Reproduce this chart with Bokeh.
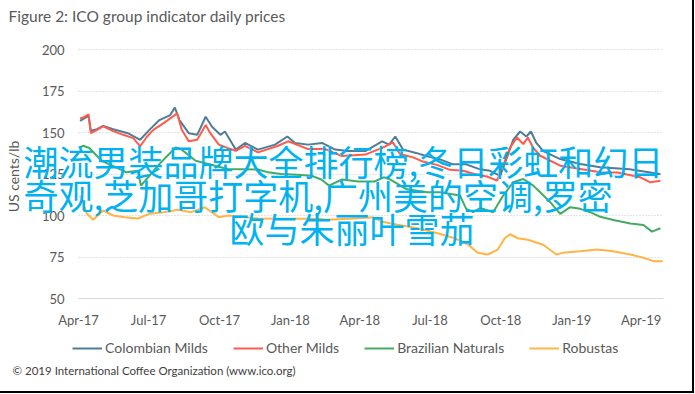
import math
import pandas as pd
from bokeh.plotting import figure
from bokeh.models import (Label, Legend, LegendItem, FixedTicker, DatetimeTickFormatter, Range1d)
from bokeh.embed import file_html
from bokeh.resources import INLINE

# ---------------- data ----------------
colombian_dates = ["2017-04-03", "2017-04-14", "2017-04-17", "2017-04-25", "2017-05-03", "2017-05-16",
                   "2017-06-04", "2017-06-20", "2017-07-02", "2017-07-15", "2017-07-29", "2017-08-04",
                   "2017-08-10", "2017-08-22", "2017-09-02", "2017-09-13", "2017-09-21", "2017-10-02",
                   "2017-10-08", "2017-10-22", "2017-11-03", "2017-11-20", "2017-12-12", "2017-12-28",
                   "2018-01-07", "2018-01-24", "2018-02-11", "2018-02-28", "2018-03-17", "2018-04-08",
                   "2018-04-30", "2018-05-09", "2018-05-17", "2018-05-27", "2018-06-13", "2018-06-26",
                   "2018-07-14", "2018-07-31", "2018-08-17", "2018-09-04", "2018-09-17", "2018-09-30",
                   "2018-10-08", "2018-10-17", "2018-10-26", "2018-11-03", "2018-11-09", "2018-11-16",
                   "2018-11-25", "2018-12-17", "2019-01-12", "2019-02-07", "2019-03-17", "2019-04-13",
                   "2019-04-26"]
colombian_vals = [157, 160, 151, 152, 154, 152,
                  149.6, 145.6, 151.6, 157.5, 160.5, 165,
                  157.5, 149.6, 148.6, 159.5, 153.6, 148.6,
                  150.6, 139.7, 143.7, 139.7, 142.7, 147.6,
                  143.7, 142.7, 143.7, 139.7, 138.8, 138.8,
                  144.7, 142.7, 147.6, 139.7, 137.7, 135.8,
                  133.8, 130.8, 130.8, 127.8, 126.9, 123.9,
                  133.8, 145.6, 150.6, 147.6, 150.6, 143.7,
                  138.8, 134, 131, 129, 127.8, 125.9,
                  124.9]

other_dates = ["2017-04-03", "2017-04-07", "2017-04-14", "2017-04-17", "2017-04-25", "2017-05-03",
               "2017-05-16", "2017-05-29", "2017-06-11", "2017-06-20", "2017-06-29", "2017-07-07",
               "2017-07-20", "2017-07-29", "2017-08-07", "2017-08-13", "2017-08-22", "2017-09-02",
               "2017-09-13", "2017-09-19", "2017-09-30", "2017-10-11", "2017-10-22", "2017-11-03",
               "2017-11-20", "2017-12-16", "2017-12-29", "2018-01-24", "2018-02-15", "2018-03-09",
               "2018-04-08", "2018-04-30", "2018-05-14", "2018-05-23", "2018-06-09", "2018-06-22",
               "2018-07-10", "2018-07-27", "2018-08-13", "2018-08-31", "2018-09-13", "2018-09-26",
               "2018-10-04", "2018-10-13", "2018-10-22", "2018-10-30", "2018-11-05", "2018-11-12",
               "2018-11-21", "2018-12-17", "2019-01-12", "2019-02-07", "2019-03-01", "2019-03-31",
               "2019-04-13", "2019-04-26"]
other_vals = [158.5, 159, 161, 149.6, 151.6, 153.7,
              150.8, 148.6, 146.6, 141.7, 147.6, 151.6,
              155.5, 158.5, 161.5, 151.6, 144.7, 145.6,
              154.5, 149.6, 142.7, 140.7, 139, 142,
              138, 142, 144.7, 140, 140, 135.8,
              136.7, 140.7, 144, 137, 135, 132.5,
              130.5, 127.5, 127, 124.5, 123.5, 121,
              130, 141, 147, 143, 147, 140.7,
              136, 130, 128, 126, 125.9, 123,
              120, 121]

brazil_dates = ["2017-04-03", "2017-04-07", "2017-04-15", "2017-05-01", "2017-05-20", "2017-06-02",
                "2017-06-17", "2017-06-21", "2017-07-04", "2017-07-17", "2017-08-05", "2017-08-12",
                "2017-08-31", "2017-09-25", "2017-10-11", "2017-11-20", "2017-12-03", "2017-12-20",
                "2018-01-10", "2018-01-28", "2018-02-10", "2018-02-20", "2018-03-09", "2018-03-30",
                "2018-04-20", "2018-05-02", "2018-05-09", "2018-06-01", "2018-06-27", "2018-07-14",
                "2018-08-09", "2018-08-17", "2018-08-26", "2018-09-04", "2018-09-21", "2018-10-04",
                "2018-10-17", "2018-10-30", "2018-11-12", "2018-11-21", "2018-12-04", "2018-12-17",
                "2018-12-30", "2019-01-12", "2019-01-25", "2019-02-07", "2019-02-24", "2019-03-18",
                "2019-04-04", "2019-04-15", "2019-04-26"]
brazil_vals = [141, 142, 140.7, 133, 129, 126,
               127, 118, 125, 132, 141, 140,
               133, 130, 128, 127.7, 126, 125,
               124.5, 124, 121.7, 118, 121.7, 120.5,
               120.5, 123, 122, 115.8, 114, 114,
               112, 104, 102, 104.5, 102, 112,
               120, 122, 118, 114, 108, 101,
               105, 104, 102, 99.2, 97.3, 95.2,
               94.3, 90.3, 92.3]

robusta_dates = ["2017-04-03", "2017-04-12", "2017-04-20", "2017-05-03", "2017-05-16", "2017-05-31",
                 "2017-06-17", "2017-07-02", "2017-07-20", "2017-08-08", "2017-08-25", "2017-09-12",
                 "2017-09-30", "2017-10-13", "2017-11-20", "2017-12-29", "2018-02-07", "2018-02-16",
                 "2018-03-19", "2018-04-05", "2018-04-18", "2018-04-30", "2018-05-20", "2018-06-15",
                 "2018-07-11", "2018-08-02", "2018-08-19", "2018-09-01", "2018-09-14", "2018-09-27",
                 "2018-10-06", "2018-10-13", "2018-10-23", "2018-11-05", "2018-11-18", "2018-11-25",
                 "2018-12-12", "2018-12-20", "2019-01-12", "2019-02-03", "2019-02-24", "2019-03-18",
                 "2019-04-04", "2019-04-17", "2019-04-29"]
robusta_vals = [112, 101, 97.4, 103, 100, 99,
                98.2, 101, 102, 103.4, 102, 105,
                99, 100, 98.2, 98, 98, 97.4,
                98, 98.5, 99, 96.2, 94.4, 92.3,
                89.3, 86.3, 82.6, 77.5, 76.5, 79.5,
                86.3, 88.7, 86.3, 85.4, 83.4, 82.4,
                76.5, 77.5, 78.5, 79.5, 78.5, 76.5,
                74.5, 72.5, 72.5]

series_names = ["Colombian Milds", "Other Milds", "Brazilian Naturals", "Robustas"]
series_colors = ["#4F7C98", "#FF5A4C", "#45AA64", "#FFB445"]

x_tick_dates = ["2017-04-01", "2017-07-01", "2017-10-01", "2018-01-01", "2018-04-01",
                "2018-07-01", "2018-10-01", "2019-01-01", "2019-04-01"]
y_ticks = [50, 75, 100, 125, 150, 175, 200]
x_start, x_end = "2017-04-01", "2019-04-30"
y_start, y_end = 50, 200

title_text = "Figure 2: ICO group indicator daily prices"
y_label_text = "US cents/lb"
footer_text = "\u00a9 2019 International Coffee Organization (www.ico.org)"
overlay_lines = ["潮流男装品牌大全排行榜,冬日彩虹和幻日",
                 "奇观,芝加哥打字机,广州美的空调,罗密",
                 "欧与朱丽叶雪茄"]

# ---------------- layout (pixels) ----------------
W, H = 679, 378
PLOT_L, PLOT_R = 78, 663      # pixel x of x_start / x_end
PLOT_T, PLOT_B = 49, 298      # pixel y of y_end / y_start

def ms(d):
    return pd.Timestamp(d).value / 1e6

xs, xe = ms(x_start), ms(x_end)
kx = (xe - xs) / (PLOT_R - PLOT_L)
ky = (y_end - y_start) / (PLOT_B - PLOT_T)
x_range = Range1d(xs - PLOT_L * kx, xe + (W - PLOT_R) * kx)
y_range = Range1d(y_start - (H - PLOT_B) * ky, y_end + PLOT_T * ky)

FONT = "Lato"
GREY = "#595959"

p = figure(width=W, height=H, output_backend="svg", toolbar_location=None,
           x_axis_type="datetime", x_range=x_range, y_range=y_range, min_border=0)
p.outline_line_color = None
p.background_fill_color = "white"
p.border_fill_color = "white"
p.styles = {"outline": "2px solid black", "outline-offset": "13px"}

p.xaxis.ticker = FixedTicker(ticks=[ms(d) for d in x_tick_dates])
p.xaxis.formatter = DatetimeTickFormatter(months="%b-%y", days="%b-%y", years="%b-%y")
p.yaxis.ticker = FixedTicker(ticks=y_ticks)
p.xaxis.fixed_location = y_start
p.yaxis.fixed_location = xs
p.xaxis.bounds = (xs, xe)
p.yaxis.bounds = (y_start, y_end)

for ax in (p.xaxis, p.yaxis):
    ax.major_tick_line_color = None
    ax.minor_tick_line_color = None
    ax.major_tick_out = 0
    ax.major_tick_in = 0
    ax.major_label_text_font = FONT
    ax.major_label_text_color = GREY
    ax.major_label_text_font_size = "13px"
p.xaxis.axis_line_color = "#D9D9D9"
p.xaxis.axis_line_width = 1.2
p.xaxis.major_label_standoff = 13
p.yaxis.axis_line_color = None
p.yaxis.major_label_standoff = 14

p.xgrid.visible = False
p.ygrid.grid_line_color = "#C8C8C8"
p.ygrid.grid_line_dash = "1 2"
p.ygrid.grid_line_width = 1.2
p.ygrid.bounds = (y_start + 1, y_end)
p.ygrid.cross_bounds = (xs, xe)

renderers = []
for d, v, c in zip([colombian_dates, other_dates, brazil_dates, robusta_dates],
                   [colombian_vals, other_vals, brazil_vals, robusta_vals], series_colors):
    r = p.line(pd.to_datetime(d), v, line_color=c, line_width=2)
    renderers.append(r)

legend = Legend(items=[LegendItem(label=n, renderers=[r]) for n, r in zip(series_names, renderers)],
                orientation="horizontal", location=(72, H - 348 - 8),
                glyph_width=30, glyph_height=16, label_standoff=3, spacing=25,
                padding=0, margin=0, border_line_color=None, background_fill_alpha=0,
                label_text_font=FONT, label_text_font_size="14px", label_text_color=GREY)
p.add_layout(legend, "center")

# texts, in screen pixels from the canvas bottom-left
p.add_layout(Label(x=8, y=H - 15, x_units="screen", y_units="screen", text=title_text,
                   text_font=FONT, text_font_size="15.5px", text_color=GREY, text_baseline="middle"))
p.add_layout(Label(x=13, y=H - 176, x_units="screen", y_units="screen", text=y_label_text,
                   angle=math.pi / 2, text_align="center", text_baseline="middle",
                   text_font=FONT, text_font_size="14px", text_color=GREY))
p.add_layout(Label(x=12, y=H - 370, x_units="screen", y_units="screen", text=footer_text,
                   text_font=FONT, text_font_size="11.5px", text_color="#404040", text_baseline="middle"))

overlay_pos = [(23, H - 159.5), (23, H - 194), (229, H - 227)]
for t, (ox, oy) in zip(overlay_lines, overlay_pos):
    p.add_layout(Label(x=ox, y=oy, x_units="screen", y_units="screen", text=t,
                       text_font="Noto Sans CJK SC", text_font_size="35px", text_color="#00B2F0",
                       text_baseline="middle"))

open("out.html", "w").write(file_html(p, INLINE))
